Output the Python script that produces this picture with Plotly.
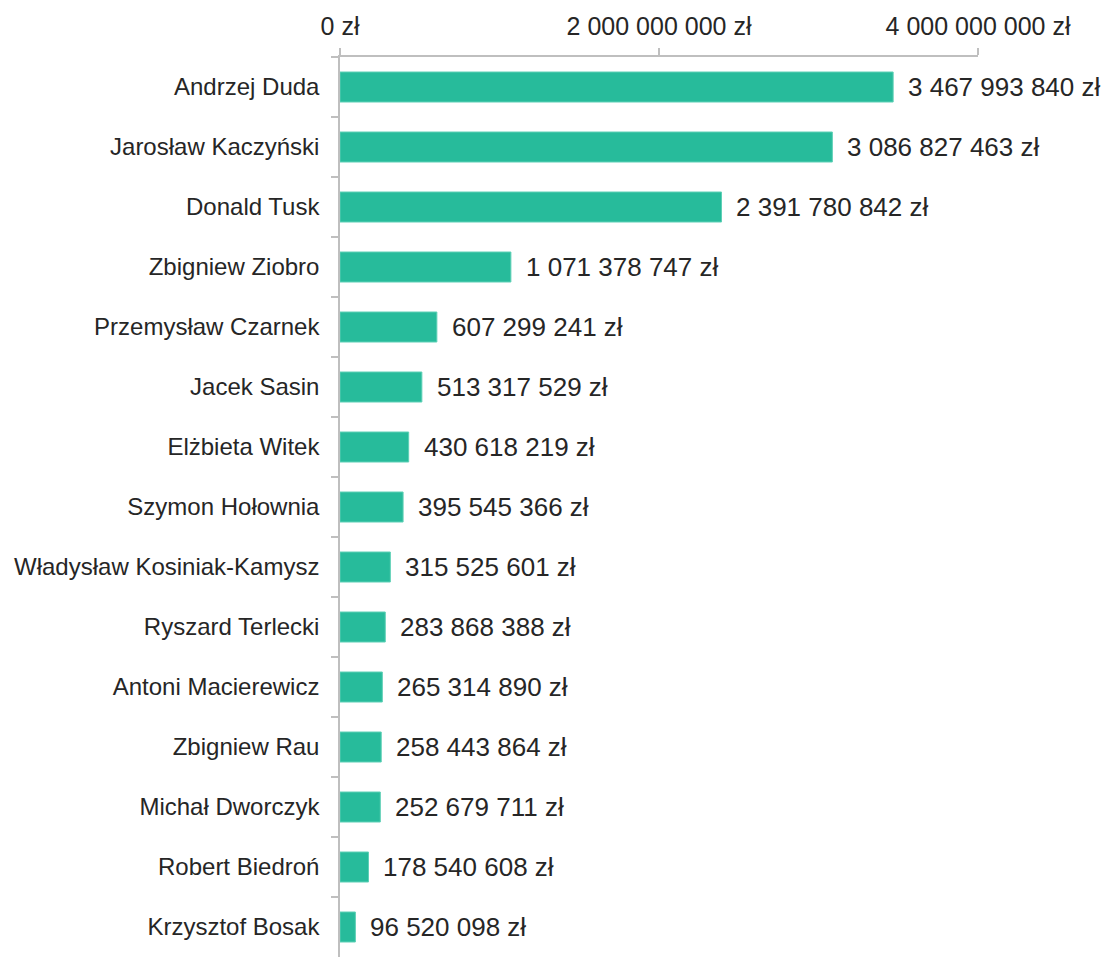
import plotly.graph_objects as go

names = ["Andrzej Duda", "Jarosław Kaczyński", "Donald Tusk", "Zbigniew Ziobro",
         "Przemysław Czarnek", "Jacek Sasin", "Elżbieta Witek", "Szymon Hołownia",
         "Władysław Kosiniak-Kamysz", "Ryszard Terlecki", "Antoni Macierewicz",
         "Zbigniew Rau", "Michał Dworczyk", "Robert Biedroń", "Krzysztof Bosak"]
values = [3467993840, 3086827463, 2391780842, 1071378747, 607299241, 513317529,
          430618219, 395545366, 315525601, 283868388, 265314890, 258443864,
          252679711, 178540608, 96520098]
tick_vals = [0, 2000000000, 4000000000]

def fmt(v):
    return f"{v:,}".replace(",", " ") + " zł"

tick_text = [fmt(v) for v in tick_vals]
labels = [fmt(v) for v in values]

fig = go.Figure()
fig.add_trace(go.Bar(
    x=values, y=names, orientation="h",
    marker=dict(color="#27BB9B", line=dict(color="#5FD0B6", width=1)),
    hoverinfo="skip",
))
for n, v, t in zip(names, values, labels):
    fig.add_annotation(x=v, y=n, text=t, showarrow=False, xanchor="left",
                       xshift=13, font=dict(size=26, color="#262626"))

fig.update_layout(
    width=1103, height=949,
    margin=dict(l=332, r=133, t=49, b=0, autoexpand=False),
    plot_bgcolor="white", paper_bgcolor="white",
    font=dict(family="Liberation Sans, Arial, sans-serif", color="#262626"),
    bargap=0.5, showlegend=False,
)
fig.update_xaxes(
    side="top", range=[0, 4000000000], tickvals=tick_vals, ticktext=tick_text,
    tickfont=dict(size=25), showgrid=False, zeroline=False,
    showline=True, linecolor="#BFBFBF", linewidth=1.5,
    ticks="outside", ticklen=7, tickcolor="#BFBFBF", tickwidth=1.5,
    ticklabelstandoff=3, automargin=False,
)
fig.update_yaxes(
    autorange="reversed", tickfont=dict(size=24), showgrid=False,
    showline=True, linecolor="#BFBFBF", linewidth=1.5,
    ticks="outside", ticklen=7, tickcolor="#BFBFBF", tickwidth=1.5,
    tickson="boundaries", ticklabelstandoff=14, automargin=False,
)
fig.write_html("out.html")
